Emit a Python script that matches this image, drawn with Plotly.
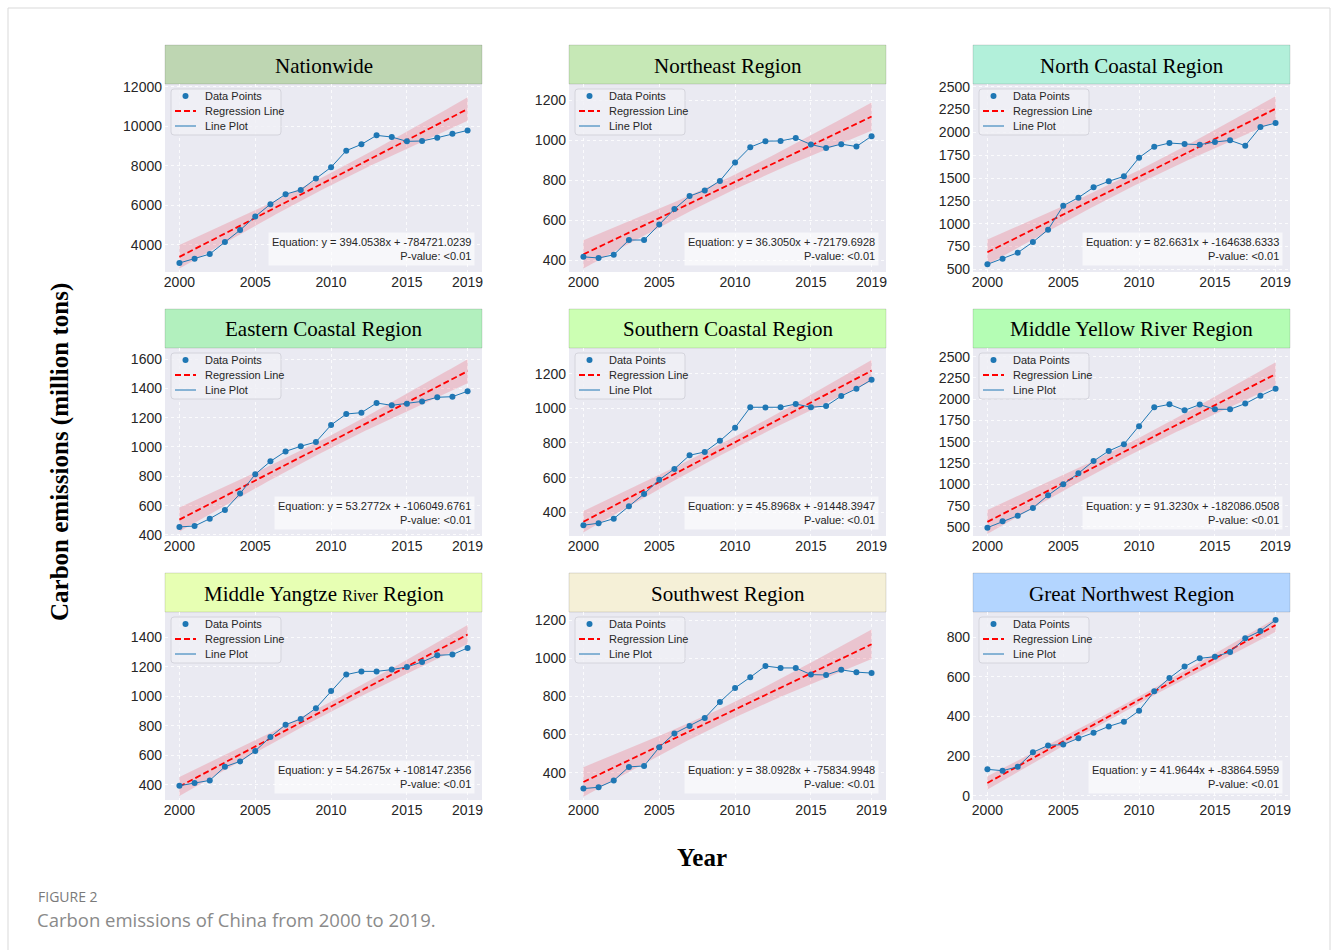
import numpy as np
import plotly.graph_objects as go

W, H = 1331, 950

years = list(range(2000, 2020))

regions = [
    "Nationwide", "Northeast Region", "North Coastal Region",
    "Eastern Coastal Region", "Southern Coastal Region", "Middle Yellow River Region",
    "Middle Yangtze <span style='font-size:16px'>River</span> Region", "Southwest Region", "Great Northwest Region",
]

nationwide = [3074, 3293, 3529, 4135, 4741, 5431, 6054, 6559, 6778, 7350,
              7923, 8764, 9084, 9539, 9455, 9236, 9253, 9421, 9623, 9791]
northeast = [418, 412, 428, 502, 502, 580, 657, 722, 750, 798,
             890, 967, 997, 998, 1013, 980, 963, 982, 970, 1022]
north_coastal = [555, 617, 682, 799, 934, 1197, 1285, 1398, 1464, 1518,
                 1723, 1843, 1883, 1872, 1865, 1894, 1912, 1854, 2058, 2102]
eastern_coastal = [455, 461, 511, 570, 682, 814, 902, 970, 1005, 1034,
                   1150, 1225, 1234, 1300, 1284, 1295, 1311, 1339, 1343, 1380]
southern_coastal = [325, 337, 363, 435, 506, 588, 650, 729, 748, 812,
                    888, 1006, 1004, 1006, 1025, 1006, 1013, 1071, 1113, 1165]
middle_yellow = [492, 567, 633, 723, 872, 1001, 1130, 1275, 1393, 1471,
                 1682, 1905, 1940, 1870, 1937, 1882, 1882, 1949, 2042, 2124]
middle_yangtze = [393, 411, 429, 522, 558, 629, 724, 807, 846, 919,
                  1035, 1147, 1169, 1169, 1181, 1199, 1233, 1278, 1283, 1328]
southwest = [316, 323, 358, 430, 435, 533, 606, 645, 687, 771,
             845, 901, 960, 950, 950, 915, 913, 940, 928, 923]
great_northwest = [133, 126, 146, 219, 254, 258, 290, 318, 350, 374,
                   429, 527, 594, 652, 694, 702, 726, 795, 832, 887]

series = [nationwide, northeast, north_coastal, eastern_coastal, southern_coastal,
          middle_yellow, middle_yangtze, southwest, great_northwest]

slopes = [394.0538, 36.3050, 82.6631, 53.2772, 45.8968, 91.3230, 54.2675, 38.0928, 41.9644]
intercepts = [-784721.0239, -72179.6928, -164638.6333, -106049.6761, -91448.3947,
              -182086.0508, -108147.2356, -75834.9948, -83864.5959]

legend_labels = ["Data Points", "Regression Line", "Line Plot"]

title_colors = ["#BED6B2", "#C6E8B6", "#B2F0DA", "#B2F0BE", "#CCFFB3",
                "#B4FDB4", "#E7FFB3", "#F5F0D7", "#B3D5FF"]

y_ranges = [(2620, 12140), (342, 1283), (471, 2529), (393, 1675), (263, 1348),
            (394, 2602), (296, 1572), (256, 1244), (-22, 928)]
y_ticks = [[4000, 6000, 8000, 10000, 12000], [400, 600, 800, 1000, 1200],
           [500, 750, 1000, 1250, 1500, 1750, 2000, 2250, 2500],
           [400, 600, 800, 1000, 1200, 1400, 1600], [400, 600, 800, 1000, 1200],
           [500, 750, 1000, 1250, 1500, 1750, 2000, 2250, 2500],
           [400, 600, 800, 1000, 1200, 1400], [400, 600, 800, 1000, 1200],
           [0, 200, 400, 600, 800]]
x_ticks = [2000, 2005, 2010, 2015, 2019]

col_px = [(165, 482), (569, 886), (973, 1290)]
row_px = [(84, 272), (348, 536), (612, 800)]
TITLE_H = 39

BLUE = "#1F77B4"
RED = "red"


def px(x):
    return x / W


def py(y):
    return 1 - y / H


def rounded_rect(x0, y0, x1, y1, r):
    def P(x, y):
        return f"{px(x):.6f},{py(y):.6f}"
    return (f"M {P(x0 + r, y0)} L {P(x1 - r, y0)} Q {P(x1, y0)} {P(x1, y0 + r)} "
            f"L {P(x1, y1 - r)} Q {P(x1, y1)} {P(x1 - r, y1)} "
            f"L {P(x0 + r, y1)} Q {P(x0, y1)} {P(x0, y1 - r)} "
            f"L {P(x0, y0 + r)} Q {P(x0, y0)} {P(x0 + r, y0)} Z")


fig = go.Figure()
layout = dict(
    template="none",
    width=W, height=H, margin=dict(l=0, r=0, t=0, b=0, pad=0, autoexpand=False),
    paper_bgcolor="white", plot_bgcolor="#EAEAF2",
    showlegend=False,
    font=dict(family="Liberation Sans, Arial", color="#262626"),
)
shapes = []
annotations = []

t_crit = 2.1009  # t(0.975, df=18)

for i in range(9):
    r, c = divmod(i, 3)
    k = "" if i == 0 else str(i + 1)
    xa, ya = "x" + k, "y" + k
    x0p, x1p = col_px[c]
    y0p, y1p = row_px[r]

    x = np.array(years, dtype=float)
    y = np.array(series[i], dtype=float)
    b, a = slopes[i], intercepts[i]
    resid = y - (b * x + a)
    n = len(x)
    s = np.sqrt(np.sum(resid ** 2) / (n - 2))
    xm = x.mean()
    sxx = np.sum((x - xm) ** 2)
    xg = np.linspace(x.min(), x.max(), 100)
    yg = b * xg + a
    se = s * np.sqrt(1.0 / n + (xg - xm) ** 2 / sxx)
    lo, hi = yg - t_crit * se, yg + t_crit * se

    fig.add_trace(go.Scatter(
        x=np.concatenate([xg, xg[::-1]]), y=np.concatenate([hi, lo[::-1]]),
        fill="toself", fillcolor="rgba(240,30,50,0.18)", line=dict(width=0),
        mode="lines", hoverinfo="skip", xaxis=xa, yaxis=ya))
    fig.add_trace(go.Scatter(
        x=xg, y=yg, mode="lines", name="Regression Line",
        line=dict(color=RED, width=1.8, dash="6px,3px"), xaxis=xa, yaxis=ya))
    fig.add_trace(go.Scatter(
        x=years, y=series[i], mode="lines", name="Line Plot",
        line=dict(color=BLUE, width=1), xaxis=xa, yaxis=ya))
    fig.add_trace(go.Scatter(
        x=years, y=series[i], mode="markers", name="Data Points",
        marker=dict(color=BLUE, size=6, line=dict(width=0)), xaxis=xa, yaxis=ya))

    layout["xaxis" + k] = dict(
        domain=[px(x0p), px(x1p)], anchor=ya, range=[1999.05, 2019.95],
        tickvals=x_ticks, ticks="", showline=False, zeroline=False, automargin=False,
        showgrid=True, gridcolor="rgba(255,255,255,0.8)", griddash="dot", gridwidth=1,
        tickfont=dict(size=14, color="#262626"))
    layout["yaxis" + k] = dict(
        domain=[py(y1p), py(y0p)], anchor=xa, range=list(y_ranges[i]),
        tickvals=y_ticks[i], tickformat="d", ticks="", showline=False, zeroline=False,
        automargin=False,
        showgrid=True, gridcolor="rgba(255,255,255,0.8)", griddash="dot", gridwidth=1,
        tickfont=dict(size=14, color="#262626"), ticklabelstandoff=2)

    # legend (drawn by hand, matplotlib-like compact layout)
    lx0, ly0 = x0p + 6, y0p + 5
    shapes.append(dict(type="path", xref="paper", yref="paper",
                       path=rounded_rect(lx0, ly0, lx0 + 110, ly0 + 46, 3),
                       fillcolor="rgba(240,240,246,0.85)",
                       line=dict(color="#D4D4DC", width=1), layer="above"))
    gx0, gx1 = lx0 + 4, lx0 + 25
    rows_y = [ly0 + 7, ly0 + 22, ly0 + 37]
    cx, cy = (gx0 + gx1) / 2, rows_y[0]
    shapes.append(dict(type="circle", xref="paper", yref="paper",
                       x0=px(cx - 3), x1=px(cx + 3), y0=py(cy + 3), y1=py(cy - 3),
                       fillcolor=BLUE, line=dict(width=0), layer="above"))
    shapes.append(dict(type="line", xref="paper", yref="paper",
                       x0=px(gx0), x1=px(gx1), y0=py(rows_y[1]), y1=py(rows_y[1]),
                       line=dict(color=RED, width=1.8, dash="6px,3px"), layer="above"))
    shapes.append(dict(type="line", xref="paper", yref="paper",
                       x0=px(gx0), x1=px(gx1), y0=py(rows_y[2]), y1=py(rows_y[2]),
                       line=dict(color=BLUE, width=1), layer="above"))
    for lbl, ry in zip(legend_labels, rows_y):
        annotations.append(dict(
            text=lbl, xref="paper", yref="paper", x=px(lx0 + 32), y=py(ry),
            xanchor="left", yanchor="middle", showarrow=False,
            font=dict(size=11, family="Liberation Sans, Arial", color="#262626")))

    # title box
    shapes.append(dict(type="rect", xref="paper", yref="paper",
                       x0=px(x0p), x1=px(x1p), y0=py(y0p), y1=py(y0p - TITLE_H),
                       fillcolor=title_colors[i], line=dict(color="rgba(0,0,0,0.12)", width=1),
                       layer="below"))
    annotations.append(dict(
        text=regions[i], xref="paper", yref="paper",
        x=px((x0p + x1p) / 2), y=py(y0p - TITLE_H / 2 + 1),
        xanchor="center", yanchor="middle", showarrow=False,
        font=dict(family="Liberation Serif, Times New Roman", size=21, color="black")))
    # equation box
    annotations.append(dict(
        text=f"Equation: y = {slopes[i]:.4f}x + {intercepts[i]:.4f}<br>P-value: &lt;0.01",
        xref=xa + " domain", yref=ya + " domain", x=0.978, y=0.03,
        xanchor="right", yanchor="bottom", align="right", showarrow=False,
        bgcolor="rgba(255,255,255,0.6)", borderpad=3,
        font=dict(size=11, family="Liberation Sans, Arial", color="#262626")))

# axis titles
annotations.append(dict(
    text="<b>Carbon emissions (million tons)</b>", xref="paper", yref="paper",
    x=px(60), y=py(452), textangle=-90, showarrow=False,
    xanchor="center", yanchor="middle",
    font=dict(family="Liberation Serif, Times New Roman", size=25, color="black")))
annotations.append(dict(
    text="<b>Year</b>", xref="paper", yref="paper",
    x=px(702), y=py(857), showarrow=False, xanchor="center", yanchor="middle",
    font=dict(family="Liberation Serif, Times New Roman", size=25, color="black")))
# caption
annotations.append(dict(
    text="FIGURE 2", xref="paper", yref="paper", x=px(36), y=py(896),
    xanchor="left", yanchor="middle", showarrow=False,
    font=dict(family="Open Sans", size=14, color="#7a7a7a")))
annotations.append(dict(
    text="Carbon emissions of China from 2000 to 2019.", xref="paper", yref="paper",
    x=px(35), y=py(919), xanchor="left", yanchor="middle", showarrow=False,
    font=dict(family="Open Sans", size=18.5, color="#8a8a8a")))

# outer frame
shapes.append(dict(type="rect", xref="paper", yref="paper",
                   x0=px(8), x1=px(1330), y0=-0.02, y1=py(8),
                   line=dict(color="#D9D9D9", width=1), fillcolor="rgba(0,0,0,0)", layer="below"))

layout["shapes"] = shapes
layout["annotations"] = annotations
fig.update_layout(**layout)
fig.write_html("out.html")
